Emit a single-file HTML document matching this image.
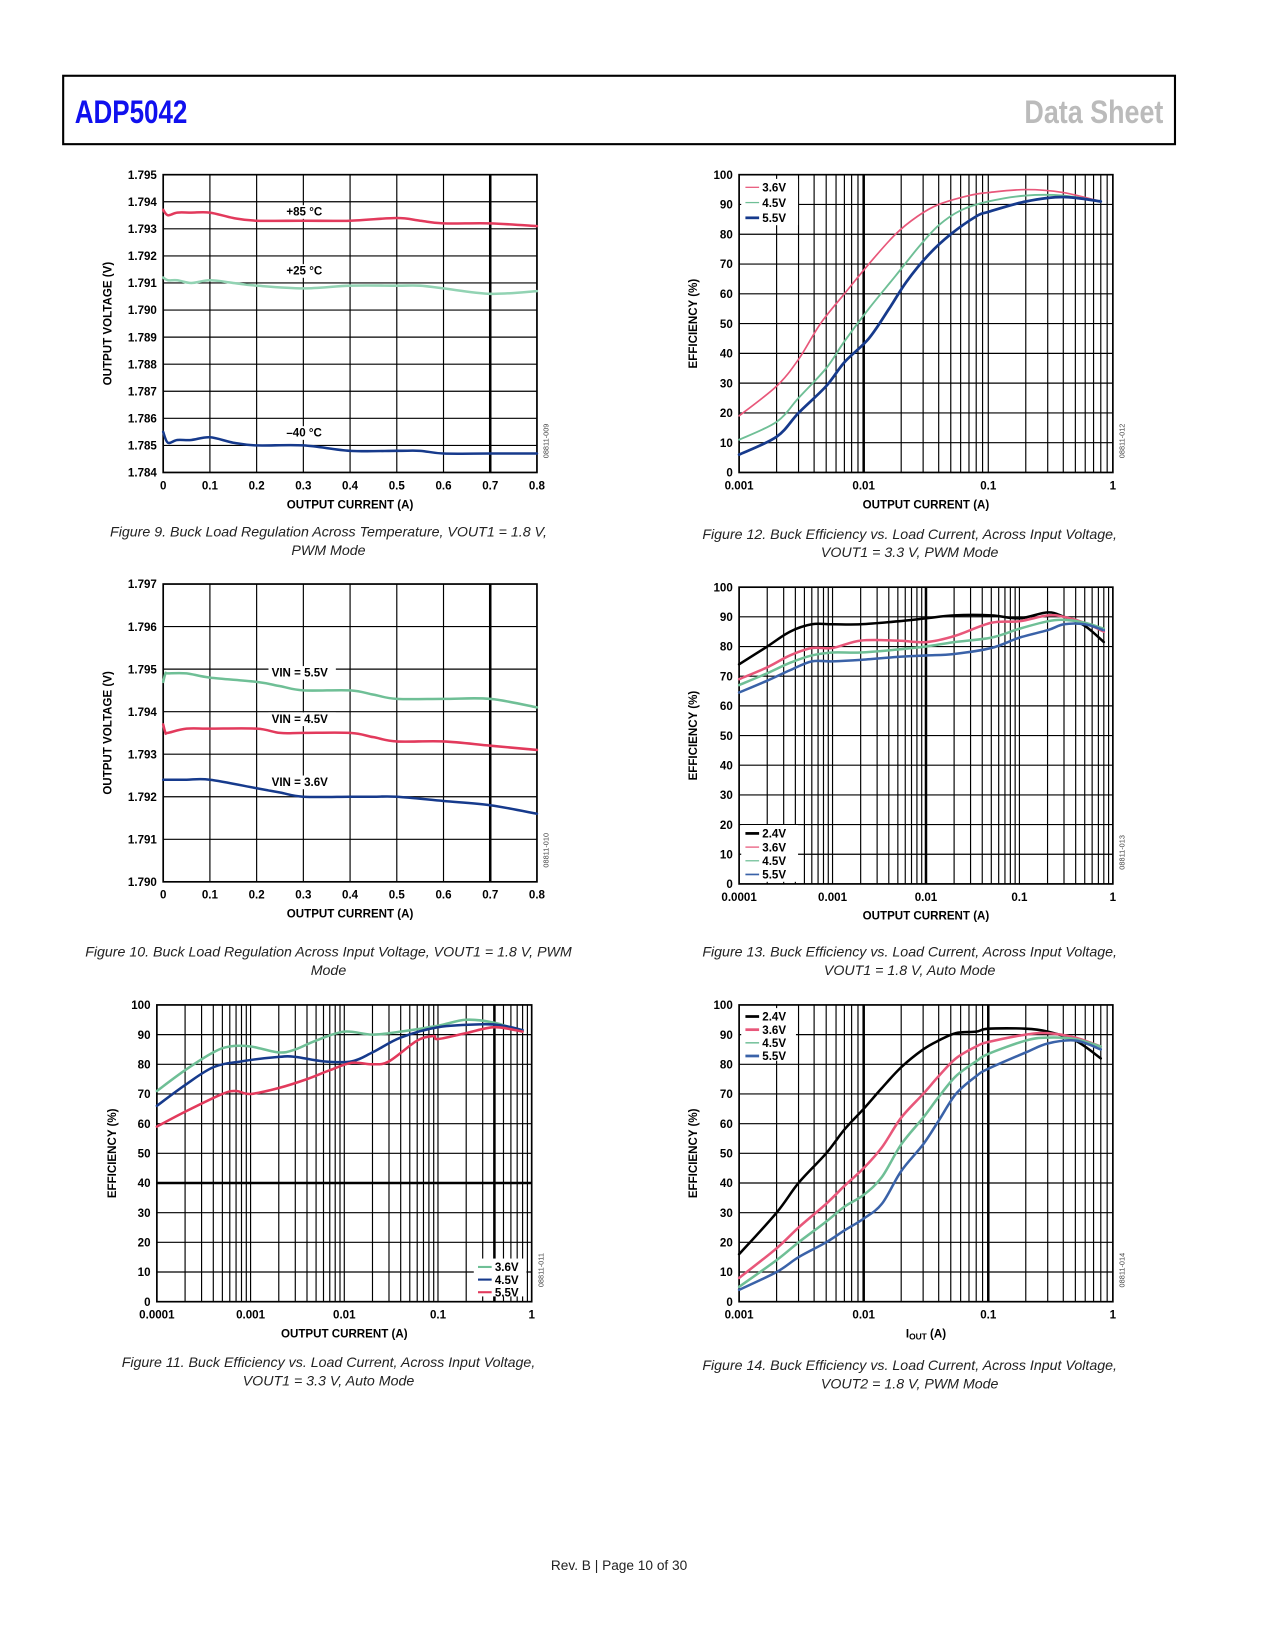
<!DOCTYPE html>
<html><head><meta charset="utf-8"><title>ADP5042 Data Sheet page 10</title>
<style>
html,body{margin:0;padding:0;background:#fff;}
svg{display:block;}
.tk{font-family:"Liberation Sans",Arial,sans-serif;font-weight:bold;font-size:11px;fill:#000;}
.cap{font-family:"Liberation Sans",sans-serif;font-style:italic;font-size:13.5px;fill:#222;}
</style></head>
<body>
<svg id="page" width="1275" height="1650" viewBox="0 0 1211 1568" preserveAspectRatio="none" xmlns="http://www.w3.org/2000/svg">
<rect x="60" y="72" width="1056" height="65" fill="#fff" stroke="#000" stroke-width="2"/>
<text x="71" y="117" textLength="107" lengthAdjust="spacingAndGlyphs" font-family="Liberation Sans,sans-serif" font-weight="bold" font-size="31" fill="#1010ee">ADP5042</text>
<text x="973" y="117" textLength="132" lengthAdjust="spacingAndGlyphs" font-family="Liberation Sans,sans-serif" font-weight="bold" font-size="31" fill="#bbbbbb">Data Sheet</text>
<text x="588" y="1492" text-anchor="middle" font-family="Liberation Sans,sans-serif" font-size="13" fill="#222">Rev. B | Page 10 of 30</text>
<g id="charts"></g>
</svg>
<script>
// ---- Figure 9 data ----
const f9X = [0,0.01,0.03,0.06,0.1,0.15,0.2,0.3,0.4,0.5,0.55,0.6,0.7,0.8];
const f9Hot = [1.7937,1.7935,1.7936,1.7936,1.7936,1.7934,1.7933,1.7933,1.7933,1.7934,1.7933,1.7932,1.7932,1.7931];
const f9Room = [1.7912,1.7911,1.7911,1.7910,1.7911,1.7910,1.7909,1.7908,1.7909,1.7909,1.7909,1.7908,1.7906,1.7907];
const f9Cold = [1.7855,1.7851,1.7852,1.7852,1.7853,1.7851,1.7850,1.7850,1.7848,1.7848,1.7848,1.7847,1.7847,1.7847];
const f9YTicks = ["1.784","1.785","1.786","1.787","1.788","1.789","1.790","1.791","1.792","1.793","1.794","1.795"];
const f9XTicks = ["0","0.1","0.2","0.3","0.4","0.5","0.6","0.7","0.8"];
// ---- Figure 10 data ----
const f10X = [0,0.005,0.01,0.05,0.1,0.2,0.25,0.3,0.4,0.45,0.5,0.6,0.7,0.8];
const f10V55 = [1.7947,1.7949,1.7949,1.7949,1.7948,1.7947,1.7946,1.7945,1.7945,1.7944,1.7943,1.7943,1.7943,1.7941];
const f10V45 = [1.7937,1.7935,1.7935,1.7936,1.7936,1.7936,1.7935,1.7935,1.7935,1.7934,1.7933,1.7933,1.7932,1.7931];
const f10V36 = [1.7924,1.7924,1.7924,1.7924,1.7924,1.7922,1.7921,1.7920,1.7920,1.7920,1.7920,1.7919,1.7918,1.7916];
const f10YTicks = ["1.790","1.791","1.792","1.793","1.794","1.795","1.796","1.797"];
const f10XTicks = ["0","0.1","0.2","0.3","0.4","0.5","0.6","0.7","0.8"];
// ---- Figure 11 data ----
const f11X = [0.0001,0.0002,0.0004,0.0006,0.001,0.002,0.003,0.005,0.01,0.02,0.04,0.1,0.2,0.4,0.8];
const f11V36 = [71,78,84,86,86,84,85,88,91,90,91,93,95,94,91];
const f11X2 = [0.0001,0.0002,0.0004,0.0008,0.002,0.003,0.006,0.012,0.02,0.04,0.1,0.3,0.5,0.8];
const f11V45 = [66,73,79,81,82.5,82.5,81,81,84,89,92.5,93.5,93,91.5];
const f11X3 = [0.0001,0.0002,0.0005,0.0007,0.001,0.002,0.004,0.007,0.012,0.02,0.03,0.06,0.09,0.1,0.2,0.4,0.8];
const f11V55 = [59,64,70,71,70,72,75,78,80.5,80,81,88,89.5,88.5,90.5,92.5,91];
const f11YTicks = ["0","10","20","30","40","50","60","70","80","90","100"];
const f11XTicks = ["0.0001","0.001","0.01","0.1","1"];
// ---- Figure 12 data ----
const f12X = [0.001,0.002,0.003,0.0045,0.007,0.011,0.018,0.027,0.04,0.07,0.1,0.2,0.4,0.8];
const f12V36 = [19,29,38,50,60,70,80,86,90,93,94,95,94,91];
const f12X2 = [0.001,0.002,0.003,0.005,0.007,0.011,0.018,0.028,0.04,0.06,0.1,0.2,0.4,0.8];
const f12V45 = [11,17,25,35,44,55,66,76,83,88,91,93,93,91];
const f12X3 = [0.001,0.002,0.003,0.005,0.007,0.011,0.016,0.022,0.033,0.05,0.08,0.1,0.2,0.4,0.8];
const f12V55 = [6,12,20,29,37,45,55,64,73,80,86,87.5,91,92.5,91];
const f12YTicks = ["0","10","20","30","40","50","60","70","80","90","100"];
const f12XTicks = ["0.001","0.01","0.1","1"];
// ---- Figure 13 data ----
const f13X = [0.0001,0.0002,0.00035,0.0006,0.001,0.002,0.005,0.01,0.02,0.05,0.1,0.2,0.3,0.5,0.8];
const f13V24 = [74,80,85,87.5,87.5,87.5,88.5,89.5,90.5,90.5,89.5,91.5,90,87,81.5];
const f13V36 = [69,73,77,79.5,79.5,82,82,81.5,83.5,88,88.5,90.5,90,88,85];
const f13V45 = [67,71,74.5,77,78,78,79,80,81.5,83,86,88.5,89,88,86];
const f13V55 = [64.5,68.5,72,75,75,75.5,76.5,77,77.5,79.5,83,85.5,87.5,87.5,85.5];
const f13YTicks = ["0","10","20","30","40","50","60","70","80","90","100"];
const f13XTicks = ["0.0001","0.001","0.01","0.1","1"];
// ---- Figure 14 data ----
const f14X = [0.001,0.002,0.003,0.005,0.007,0.01,0.014,0.02,0.03,0.04,0.055,0.08,0.1,0.2,0.3,0.5,0.8];
const f14V24 = [16,30,40,50,58,65,72,79,85,88,90.5,91,92,92,91,88,82];
const f14V36 = [8,18,25,33,39,45,52,62,70,76,82,86,87.5,90,90.5,89,86];
const f14V45 = [5,14,20,27,32,36,42,53,62,69,76,81,83.5,88,89,88.5,86];
const f14V55 = [4,10,15,20,24,28,33,44,53,61,70,76,78.5,84,87,88,85];
const f14YTicks = ["0","10","20","30","40","50","60","70","80","90","100"];
const f14XTicks = ["0.001","0.01","0.1","1"];

const NS = "http://www.w3.org/2000/svg";
const root = document.getElementById("charts");
const C = {red:"#e23a5c", green:"#6fbf96", lgreen:"#92d3b3", navy:"#163a8c", blue:"#3a62a8", black:"#000", pink:"#e8577a"};

function mk(tag, attrs, parent){
  const e = document.createElementNS(NS, tag);
  for (const k in attrs) e.setAttribute(k, attrs[k]);
  (parent||root).appendChild(e);
  return e;
}
function smoothPath(pts){
  let d = "M"+pts[0][0].toFixed(2)+","+pts[0][1].toFixed(2);
  for (let i=0;i<pts.length-1;i++){
    const p0=pts[Math.max(0,i-1)], p1=pts[i], p2=pts[i+1], p3=pts[Math.min(pts.length-1,i+2)];
    const c1=[p1[0]+(p2[0]-p0[0])/6, p1[1]+(p2[1]-p0[1])/6];
    const c2=[p2[0]-(p3[0]-p1[0])/6, p2[1]-(p3[1]-p1[1])/6];
    d += " C"+c1[0].toFixed(2)+","+c1[1].toFixed(2)+" "+c2[0].toFixed(2)+","+c2[1].toFixed(2)+" "+p2[0].toFixed(2)+","+p2[1].toFixed(2);
  }
  return d;
}

function chart(cfg){
  const g = mk("g", {});
  
  
  const {x0,x1,y0,y1} = cfg;
  const ymin = parseFloat(cfg.yTicks[0]), ymax = parseFloat(cfg.yTicks[cfg.yTicks.length-1]);
  const sy = v => y1 - (v - ymin)/(ymax - ymin)*(y1 - y0);
  let sx;
  if (cfg.log){
    const a = Math.log10(parseFloat(cfg.xTicks[0])), b = Math.log10(parseFloat(cfg.xTicks[cfg.xTicks.length-1]));
    sx = v => x0 + (Math.log10(v)-a)/(b-a)*(x1-x0);
  } else {
    const a = parseFloat(cfg.xTicks[0]), b = parseFloat(cfg.xTicks[cfg.xTicks.length-1]);
    sx = v => x0 + (v-a)/(b-a)*(x1-x0);
  }
  const grid = mk("g", {stroke:"#000", "stroke-width":"1.1", fill:"none"}, g);
  
  
  cfg.yTicks.forEach(t=>{
    const y = sy(parseFloat(t));
    const heavy = cfg.heavyY !== undefined && parseFloat(t) === cfg.heavyY;
    const l = mk("line", {x1:x0, x2:x1, y1:y, y2:y, "stroke-width": heavy?2.4:1.1}, grid);
    
    
    const tx = mk("text", {x:x0-6, y:y+4, "text-anchor":"end", class:"tk"}, g);
    tx.textContent = t;
    
    
  });
  if (cfg.log){
    for (let i=0;i<cfg.xTicks.length-1;i++){
      const base = parseFloat(cfg.xTicks[i]);
      for (let m=1;m<10;m++){
        const v = base*m;
        const x = sx(v);
        const heavy = (cfg.heavyX||[]).some(h=>Math.abs(h-v)/v<1e-6);
        const l = mk("line", {x1:x, x2:x, y1:y0, y2:y1, "stroke-width": heavy?2.4:1.1}, grid);
        
        
      }
    }
  } else {
    cfg.xTicks.forEach(t=>{
      const v = parseFloat(t), x = sx(v);
      const heavy = (cfg.heavyX||[]).includes(v);
      const l = mk("line", {x1:x, x2:x, y1:y0, y2:y1, "stroke-width": heavy?2.4:1.1}, grid);
      
      
    });
  }
  const fr = mk("rect", {x:x0, y:y0, width:x1-x0, height:y1-y0, fill:"none", stroke:"#000", "stroke-width":"1.6"}, g);
  
  
  cfg.xTicks.forEach(t=>{
    const tx = mk("text", {x:sx(parseFloat(t)), y:y1+16, "text-anchor":"middle", class:"tk"}, g);
    tx.textContent = t;
    
    
  });
  cfg.series.forEach(s=>{
    const pts = s.x.map((xv,i)=>[sx(xv), sy(s.y[i])]);
    const p = mk("path", {d:smoothPath(pts), fill:"none", stroke:s.color, "stroke-width":s.w||2.4, "stroke-linejoin":"round", "stroke-linecap":"round"}, g);
    
    
  });
  if (cfg.legend){
    const L = cfg.legend;
    const lb = mk("rect", {x:L.x, y:L.y, width:L.w, height:L.h, fill:"#fff"}, g);
    
    
    cfg.series.forEach((s,i)=>{
      const yy = L.y + 8 + i*L.step;
      const ln = mk("line", {x1:L.x+4, x2:L.x+17, y1:yy, y2:yy, stroke:s.color, "stroke-width":s.legW||2}, g);
      
      
      const tx = mk("text", {x:L.x+20, y:yy+4, class:"tk"}, g);
      tx.textContent = s.label;
      
      
    });
  }
  const xt = mk("text", {x:(x0+x1)/2, y:y1+34, "text-anchor":"middle", class:"tk"}, g);
  if (cfg.xTitleHTML){ xt.innerHTML = cfg.xTitleHTML; } else { xt.textContent = cfg.xTitle; }
  
  
  const ytx = cfg.yTitleX, yty = (y0+y1)/2;
  const yt = mk("text", {x:ytx, y:yty, "text-anchor":"middle", class:"tk", transform:"rotate(-90 "+ytx+" "+yty+")"}, g);
  yt.textContent = cfg.yTitle;
  
  
  const cx = x1+11, cy = y1-30;
  const code = mk("text", {x:cx, y:cy, "text-anchor":"middle", "font-family":"Liberation Sans,sans-serif", "font-size":"7", fill:"#444", transform:"rotate(-90 "+cx+" "+cy+")"}, g);
  code.textContent = cfg.code;
  
  
  (cfg.notes||[]).forEach(n=>{
    if (n.bg){
      const r = mk("rect", {x:n.x-3, y:n.y-10, width:n.w, height:13, fill:"#fff"}, g);
      
      
    }
    const t = mk("text", {x:n.x, y:n.y, class:"tk"}, g);
    t.textContent = n.t;
    
    
  });
  cfg.caption.forEach((c,i)=>{
    const t = mk("text", {x:cfg.capX, y:cfg.capY + i*17.5, "text-anchor":"middle", class:"cap"}, root);
    t.textContent = c;
    
    
  });
}

chart({name:"figure-9-chart", x0:155,x1:510,y0:166,y1:449, yTicks:f9YTicks, xTicks:f9XTicks, heavyX:[0.7],
  series:[{x:f9X,y:f9Hot,color:C.red,name:"series-85c"},{x:f9X,y:f9Room,color:C.lgreen,name:"series-25c"},{x:f9X,y:f9Cold,color:C.navy,name:"series-minus40c"}],
  notes:[{x:272,y:205,t:"+85 °C",bg:true,w:40},{x:272,y:261,t:"+25 °C",bg:true,w:40},{x:272,y:415,t:"–40 °C",bg:true,w:40}],
  xTitle:"OUTPUT CURRENT (A)", yTitle:"OUTPUT VOLTAGE (V)", yTitleX:106, code:"08811-009",
  caption:["Figure 9. Buck Load Regulation Across Temperature, VOUT1 = 1.8 V,","PWM Mode"], capX:312, capY:510});

chart({name:"figure-10-chart", x0:155,x1:510,y0:555,y1:838, yTicks:f10YTicks, xTicks:f10XTicks, heavyX:[0.7],
  series:[{x:f10X,y:f10V55,color:C.green,name:"series-vin-5v5"},{x:f10X,y:f10V45,color:C.red,name:"series-vin-4v5"},{x:f10X,y:f10V36,color:C.navy,name:"series-vin-3v6"}],
  notes:[{x:258,y:643,t:"VIN = 5.5V",bg:true,w:64},{x:258,y:687,t:"VIN = 4.5V",bg:true,w:64},{x:258,y:747,t:"VIN = 3.6V",bg:true,w:64}],
  xTitle:"OUTPUT CURRENT (A)", yTitle:"OUTPUT VOLTAGE (V)", yTitleX:106, code:"08811-010",
  caption:["Figure 10. Buck Load Regulation Across Input Voltage, VOUT1 = 1.8 V, PWM","Mode"], capX:312, capY:909});

chart({name:"figure-11-chart", x0:149,x1:505,y0:955,y1:1237, yTicks:f11YTicks, xTicks:f11XTicks, log:true, heavyX:[0.4,1], heavyY:40,
  series:[{x:f11X,y:f11V36,color:C.green,name:"series-3v6",label:"3.6V"},{x:f11X2,y:f11V45,color:C.navy,name:"series-4v5",label:"4.5V"},{x:f11X3,y:f11V55,color:C.red,name:"series-5v5",label:"5.5V"}],
  legend:{x:450,y:1196,w:50,h:36,step:12},
  xTitle:"OUTPUT CURRENT (A)", yTitle:"EFFICIENCY (%)", yTitleX:110, code:"08811-011",
  caption:["Figure 11. Buck Efficiency vs. Load Current, Across Input Voltage,","VOUT1 = 3.3 V, Auto Mode"], capX:312, capY:1299});

chart({name:"figure-12-chart", x0:702,x1:1057,y0:166,y1:449, yTicks:f12YTicks, xTicks:f12XTicks, log:true, heavyX:[0.01],
  series:[{x:f12X,y:f12V36,color:C.pink,name:"series-3v6",label:"3.6V",w:1.6,legW:1.2},{x:f12X2,y:f12V45,color:C.green,name:"series-4v5",label:"4.5V",w:1.8,legW:1.2},{x:f12X3,y:f12V55,color:C.navy,name:"series-5v5",label:"5.5V",w:2.6,legW:2.6}],
  legend:{x:704,y:170,w:54,h:44,step:14.5},
  xTitle:"OUTPUT CURRENT (A)", yTitle:"EFFICIENCY (%)", yTitleX:662, code:"08811-012",
  caption:["Figure 12. Buck Efficiency vs. Load Current, Across Input Voltage,","VOUT1 = 3.3 V, PWM Mode"], capX:864, capY:512});

chart({name:"figure-13-chart", x0:702,x1:1057,y0:558,y1:840, yTicks:f13YTicks, xTicks:f13XTicks, log:true, heavyX:[0.01,1],
  series:[{x:f13X,y:f13V24,color:C.black,name:"series-2v4",label:"2.4V",legW:2.6},{x:f13X,y:f13V36,color:C.pink,name:"series-3v6",label:"3.6V",legW:1.2},{x:f13X,y:f13V45,color:C.green,name:"series-4v5",label:"4.5V",legW:1.2},{x:f13X,y:f13V55,color:C.blue,name:"series-5v5",label:"5.5V",legW:1.6}],
  legend:{x:704,y:784,w:54,h:54,step:13},
  xTitle:"OUTPUT CURRENT (A)", yTitle:"EFFICIENCY (%)", yTitleX:662, code:"08811-013",
  caption:["Figure 13. Buck Efficiency vs. Load Current, Across Input Voltage,","VOUT1 = 1.8 V, Auto Mode"], capX:864, capY:909});

chart({name:"figure-14-chart", x0:702,x1:1057,y0:955,y1:1237, yTicks:f14YTicks, xTicks:f14XTicks, log:true, heavyX:[0.01,0.1],
  series:[{x:f14X,y:f14V24,color:C.black,name:"series-2v4",label:"2.4V",legW:2.6},{x:f14X,y:f14V36,color:C.pink,name:"series-3v6",label:"3.6V",legW:2.6},{x:f14X,y:f14V45,color:C.green,name:"series-4v5",label:"4.5V",legW:1.4},{x:f14X,y:f14V55,color:C.blue,name:"series-5v5",label:"5.5V",legW:2.6}],
  legend:{x:704,y:958,w:52,h:50,step:12.5},
  xTitleHTML:'I<tspan font-size="8" dy="2">OUT</tspan><tspan dy="-2"> (A)</tspan>', yTitle:"EFFICIENCY (%)", yTitleX:662, code:"08811-014",
  caption:["Figure 14. Buck Efficiency vs. Load Current, Across Input Voltage,","VOUT2 = 1.8 V, PWM Mode"], capX:864, capY:1302});
</script>
</body></html>
